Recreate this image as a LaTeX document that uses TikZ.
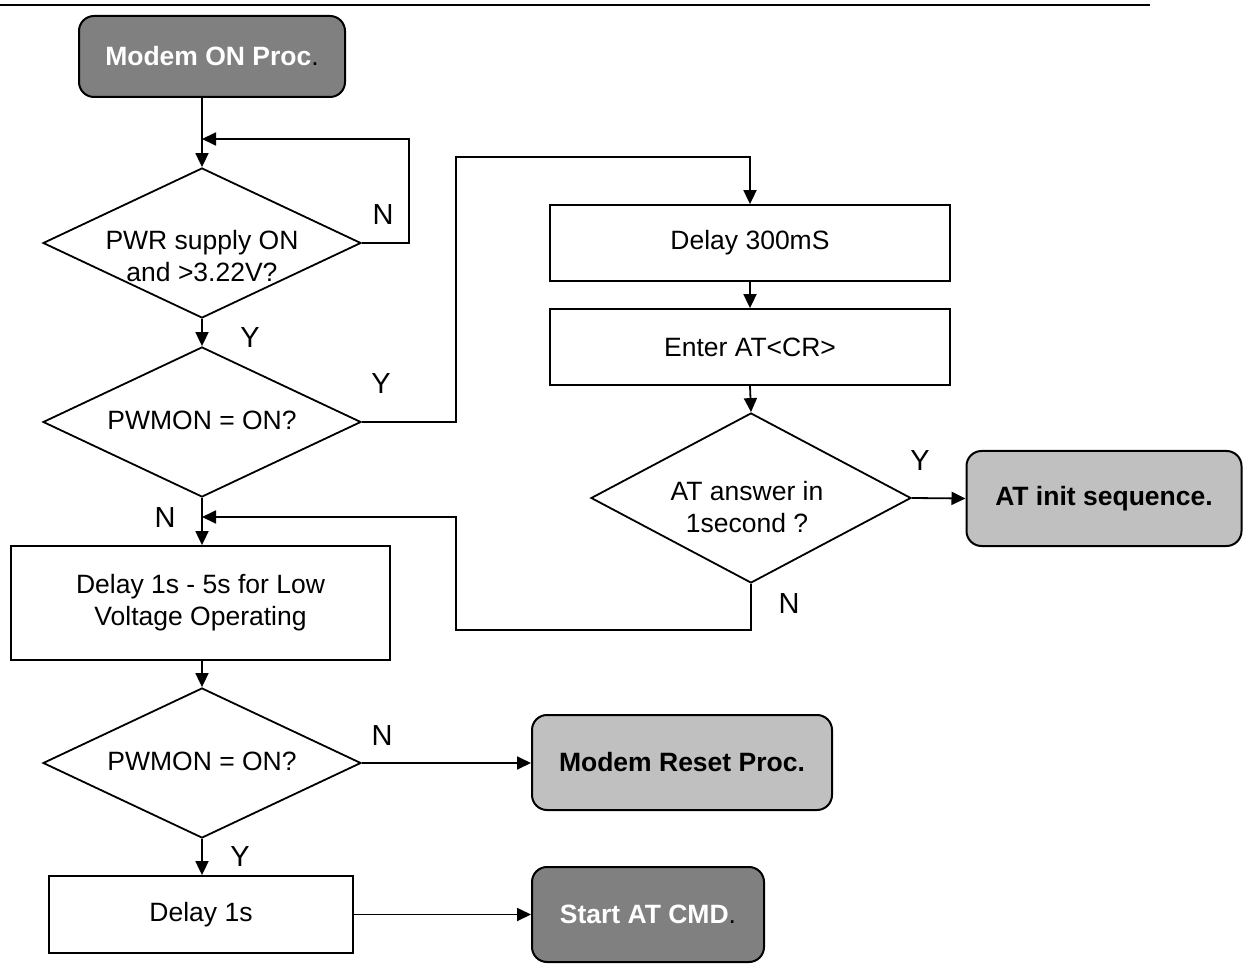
\documentclass[tikz,border=0pt]{standalone}
\usepackage{fontspec}
\setmainfont{Liberation Sans}
\usetikzlibrary{shapes.geometric,arrows.meta}
\definecolor{darkfill}{RGB}{128,128,128}
\definecolor{lightfill}{RGB}{192,192,192}
\begin{document}
\begin{tikzpicture}[x=1pt,y=-1pt,
  every node/.style={font=\fontsize{26.5}{32}\selectfont, align=center},
  stepbox/.style={draw, line width=1.8pt, rectangle, inner sep=0pt},
  termbox/.style={draw, line width=2pt, rectangle, rounded corners=15pt, inner sep=0pt},
  decbox/.style={draw, line width=1.8pt, diamond, inner sep=0pt, minimum width=318pt, minimum height=150pt},
  ynlabel/.style={font=\fontsize{29}{32}\selectfont, inner sep=0pt},
  flow/.style={line width=1.8pt, -{Triangle[length=14pt,width=13pt]}},
  wire/.style={line width=1.8pt}]
\useasboundingbox (0,0) rectangle (1248,973);

% header rule
\coordinate (hl) at (0,5);
\coordinate (hr) at (1150,5);
\draw[line width=2.5pt] (hl) -- (hr);

% left column
\node[termbox, fill=darkfill, minimum width=266pt, minimum height=81pt] (on) at (212,56.5)
  {\textcolor{white}{\textbf{Modem ON Proc}}.};
\node[decbox] (d1) at (202,243) {};
\node at (202,256) (t1) {PWR supply ON\\and >3.22V?};
\node[decbox] (d2) at (202,422) {};
\node at (202,420) (t2) {PWMON = ON?};
\node[stepbox, minimum width=379pt, minimum height=114pt] (dly) at (200.5,603)
  {Delay 1s - 5s for Low\\Voltage Operating};
\node[decbox] (d4) at (202,763) {};
\node at (202,761) (t4) {PWMON = ON?};
\node[stepbox, minimum width=304pt, minimum height=77pt] (d1s) at (201,914.5) {Delay 1s};

% right column
\node[stepbox, minimum width=400pt, minimum height=76pt] (d300) at (750,243) {Delay 300mS};
\node[stepbox, minimum width=400pt, minimum height=76pt] (enter) at (750,347) {Enter AT<CR>};
\node[decbox, minimum width=320pt, minimum height=170pt] (d3) at (751,498) {};
\node at (747,507) (t3) {AT answer in\\1second ?};

% terminals
\node[termbox, fill=lightfill, minimum width=275pt, minimum height=95pt] (init) at (1104,498.5)
  {\textbf{AT init sequence.}};
\node[termbox, fill=lightfill, minimum width=300pt, minimum height=95pt] (reset) at (682,762.5)
  {\textbf{Modem Reset Proc.}};
\node[termbox, fill=darkfill, minimum width=232pt, minimum height=95pt] (start) at (648,914.5)
  {\textcolor{white}{\textbf{Start AT CMD}}.};

% junction points of the loops
\coordinate (j1) at (202,139);
\coordinate (l1) at (409,139);
\coordinate (r1) at (456,157);
\coordinate (b1) at (456,630);
\coordinate (j2) at (202,517);

% connectors
\draw[flow] (d1.north |- on.south) -- (d1.north);
\draw[flow] (d1.east) -| (l1) -- (j1);
\draw[flow] (d1.south) -- (d2.north);
\draw[flow] (d2.east) -| (r1) -| (d300.north);
\draw[flow] (d300.south) -- (enter.north);
\draw[flow] (enter.south) -- (d3.north);
\draw[flow] (d3.east) -- (init.west);
\draw[flow] (d3.south) |- (b1) |- (j2);
\draw[flow] (d2.south) -- (d2.south |- dly.north);
\draw[flow] (d4.north |- dly.south) -- (d4.north);
\draw[flow] (d4.east) -- (d4.east -| reset.west);
\draw[flow] (d4.south) -- (d4.south |- d1s.north);
\draw[flow] (d1s.east) -- (d1s.east -| start.west);

% branch labels
\node[ynlabel] (n1) at (383,215) {N};
\node[ynlabel] (y1) at (250,338) {Y};
\node[ynlabel] (y2) at (381,384) {Y};
\node[ynlabel] (n2) at (165,518) {N};
\node[ynlabel] (y3) at (920,461) {Y};
\node[ynlabel] (n3) at (789,604) {N};
\node[ynlabel] (n4) at (382,736) {N};
\node[ynlabel] (y4) at (240,857) {Y};
\end{tikzpicture}
\end{document}
